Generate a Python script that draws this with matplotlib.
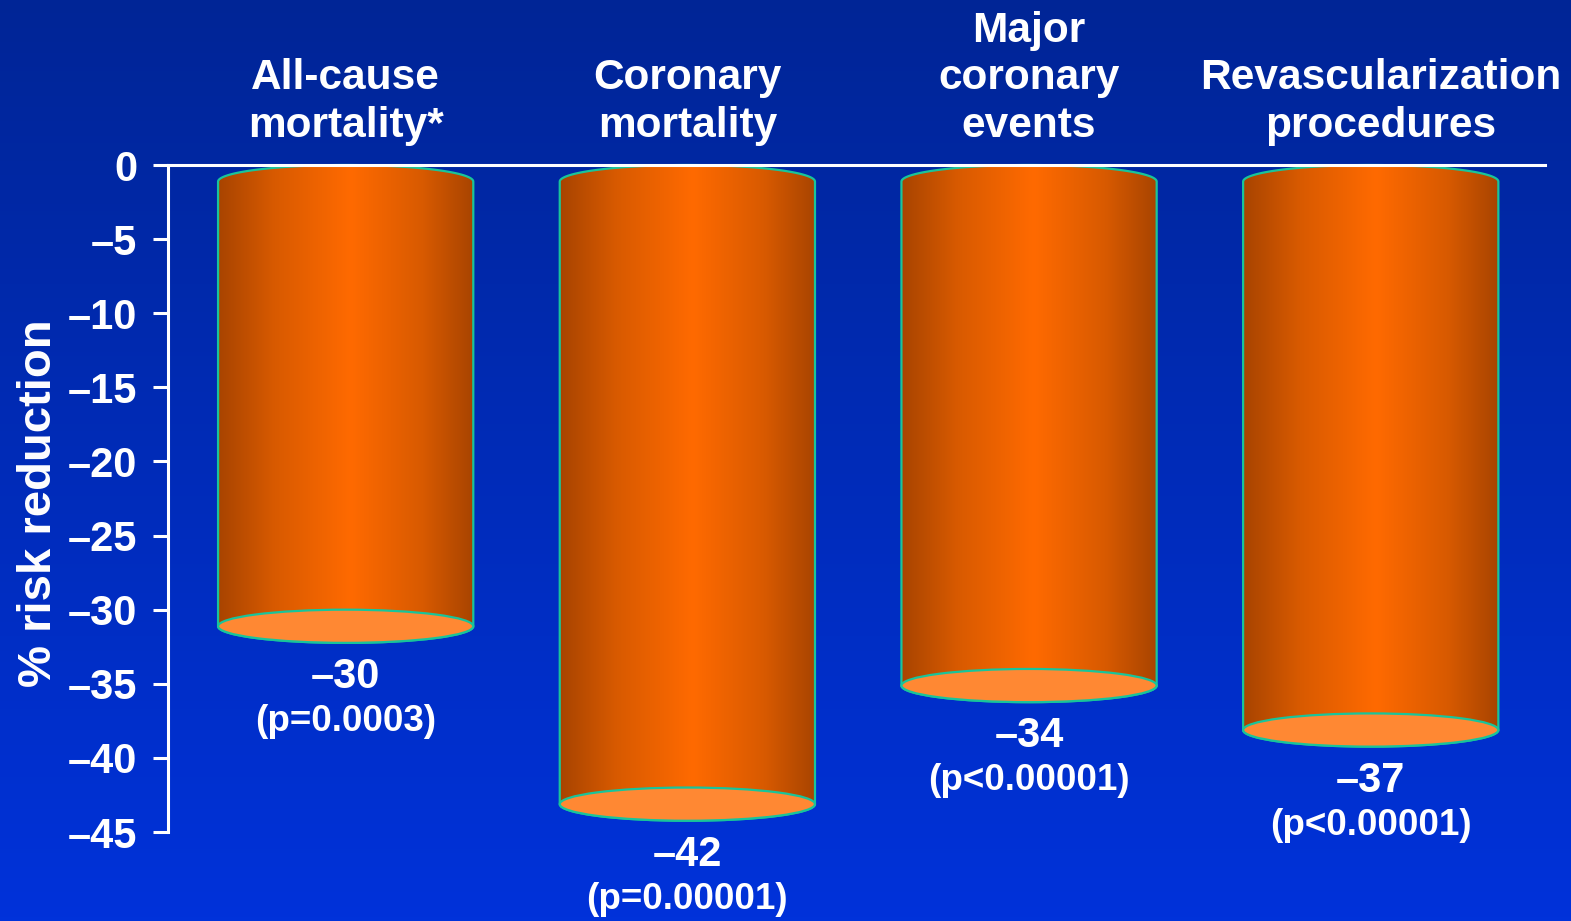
import numpy as np
import matplotlib
matplotlib.use("Agg")
import matplotlib.pyplot as plt
from matplotlib.path import Path
from matplotlib.patches import PathPatch, Ellipse
from matplotlib.colors import LinearSegmentedColormap
from matplotlib.ticker import FixedLocator, FuncFormatter

# ---- data -------------------------------------------------------------
categories = ["All-cause\nmortality*", "Coronary\nmortality",
              "Major\ncoronary\nevents", "Revascularization\nprocedures"]
risk_reduction = [-30, -42, -34, -37]
p_values = ["(p=0.0003)", "(p=0.00001)", "(p<0.00001)", "(p<0.00001)"]
y_ticks = [0, -5, -10, -15, -20, -25, -30, -35, -40, -45]

# ---- style ------------------------------------------------------------
plt.rcParams['font.family'] = ['Liberation Sans', 'DejaVu Sans']
plt.rcParams['font.weight'] = 'bold'
WHITE = 'white'
RIM = '#19c49a'
CAP_FILL = '#ff8833'
side_cmap = LinearSegmentedColormap.from_list(
    "side", [(0.0, '#a84400'), (0.22, '#d85a00'), (0.52, '#ff6a00'),
             (0.80, '#d85a00'), (1.0, '#a84400')])

W, H = 1571, 921
fig = plt.figure(figsize=(W / 100, H / 100), dpi=100)

# vertical blue background gradient
bg = fig.add_axes([0, 0, 1, 1], zorder=0)
t = np.linspace(0, 1, 256)[:, None, None]
top_c = np.array([0, 37, 150]) / 255
bot_c = np.array([0, 50, 218]) / 255
bg.imshow(top_c + (bot_c - top_c) * t, aspect='auto', extent=[0, 1, 0, 1])
bg.axis('off')

ax = fig.add_axes([168 / W, 1 - 832 / H, (1545 - 168) / W, (832 - 165) / H],
                  zorder=1)
ax.set_facecolor('none')

x = np.arange(len(categories))
width = 0.747
cap_h = 1.12  # half-height of the elliptical caps, in data units

for xc, v, p in zip(x, risk_reduction, p_values):
    a = width / 2
    x0, x1 = xc - a, xc + a
    th_top = np.linspace(np.pi, 0, 80)
    th_bot = np.linspace(0, -np.pi, 80)
    pts = np.vstack([
        np.column_stack([xc + a * np.cos(th_top), -cap_h + cap_h * np.sin(th_top)]),
        np.column_stack([xc + a * np.cos(th_bot), v - cap_h + cap_h * np.sin(th_bot)]),
    ])
    pts = np.vstack([pts, pts[:1]])
    body = PathPatch(Path(pts, closed=True), facecolor='none', edgecolor=RIM,
                     lw=1.6, zorder=1.5, clip_on=False)
    ax.add_patch(body)
    im = ax.imshow(np.linspace(0, 1, 256)[None, :], cmap=side_cmap,
                   extent=(x0, x1, v - 2 * cap_h, 0), aspect='auto',
                   zorder=1.2)
    im.set_clip_path(body)
    ax.add_patch(Ellipse((xc, v - cap_h), width, 2 * cap_h, facecolor=CAP_FILL,
                         edgecolor=RIM, lw=1.6, zorder=2, clip_on=False))
    # value and p-value under each cylinder
    ax.annotate(f"\u2013{abs(v)}", xy=(xc, v - 2 * cap_h), xytext=(0, -32.5),
                textcoords='offset points', ha='center', va='baseline',
                color=WHITE, fontsize=30, fontweight='bold', annotation_clip=False)
    ax.annotate(p, xy=(xc, v - 2 * cap_h), xytext=(0, -63.5),
                textcoords='offset points', ha='center', va='baseline',
                color=WHITE, fontsize=26.5, fontweight='bold', annotation_clip=False)

# category headers above the zero line
header_shift = [0, 0, 0, 7]  # points; the long last header sits a little right
for xc, name, dx in zip(x, categories, header_shift):
    ax.annotate(name, xy=(xc, 1.0), xycoords=('data', 'axes fraction'),
                xytext=(dx, 14), textcoords='offset points', ha='center',
                va='bottom', color=WHITE, fontsize=30.5, fontweight='bold',
                linespacing=1.24, annotation_clip=False)

ax.set_xlim(-0.52, 3.51)
ax.set_ylim(-45, 0)

for side in ('right', 'bottom'):
    ax.spines[side].set_visible(False)
for side in ('left', 'top'):
    ax.spines[side].set_color(WHITE)
    ax.spines[side].set_linewidth(2.2)
ax.set_xticks([])
ax.yaxis.set_major_locator(FixedLocator(y_ticks))
ax.yaxis.set_major_formatter(FuncFormatter(
    lambda v, pos: "0" if v == 0 else f"\u2013{abs(int(round(v)))}"))
ax.tick_params(axis='y', colors=WHITE, direction='out', length=10.8, width=2.2,
               pad=11.5, labelsize=30)
for lbl in ax.get_yticklabels():
    lbl.set_fontweight('bold')

fig.text(39 / W, 1 - 503 / H, "% risk reduction", rotation=90, ha='center',
         va='center', color=WHITE, fontsize=34, fontweight='bold')

fig.savefig("out.png", dpi=100)
